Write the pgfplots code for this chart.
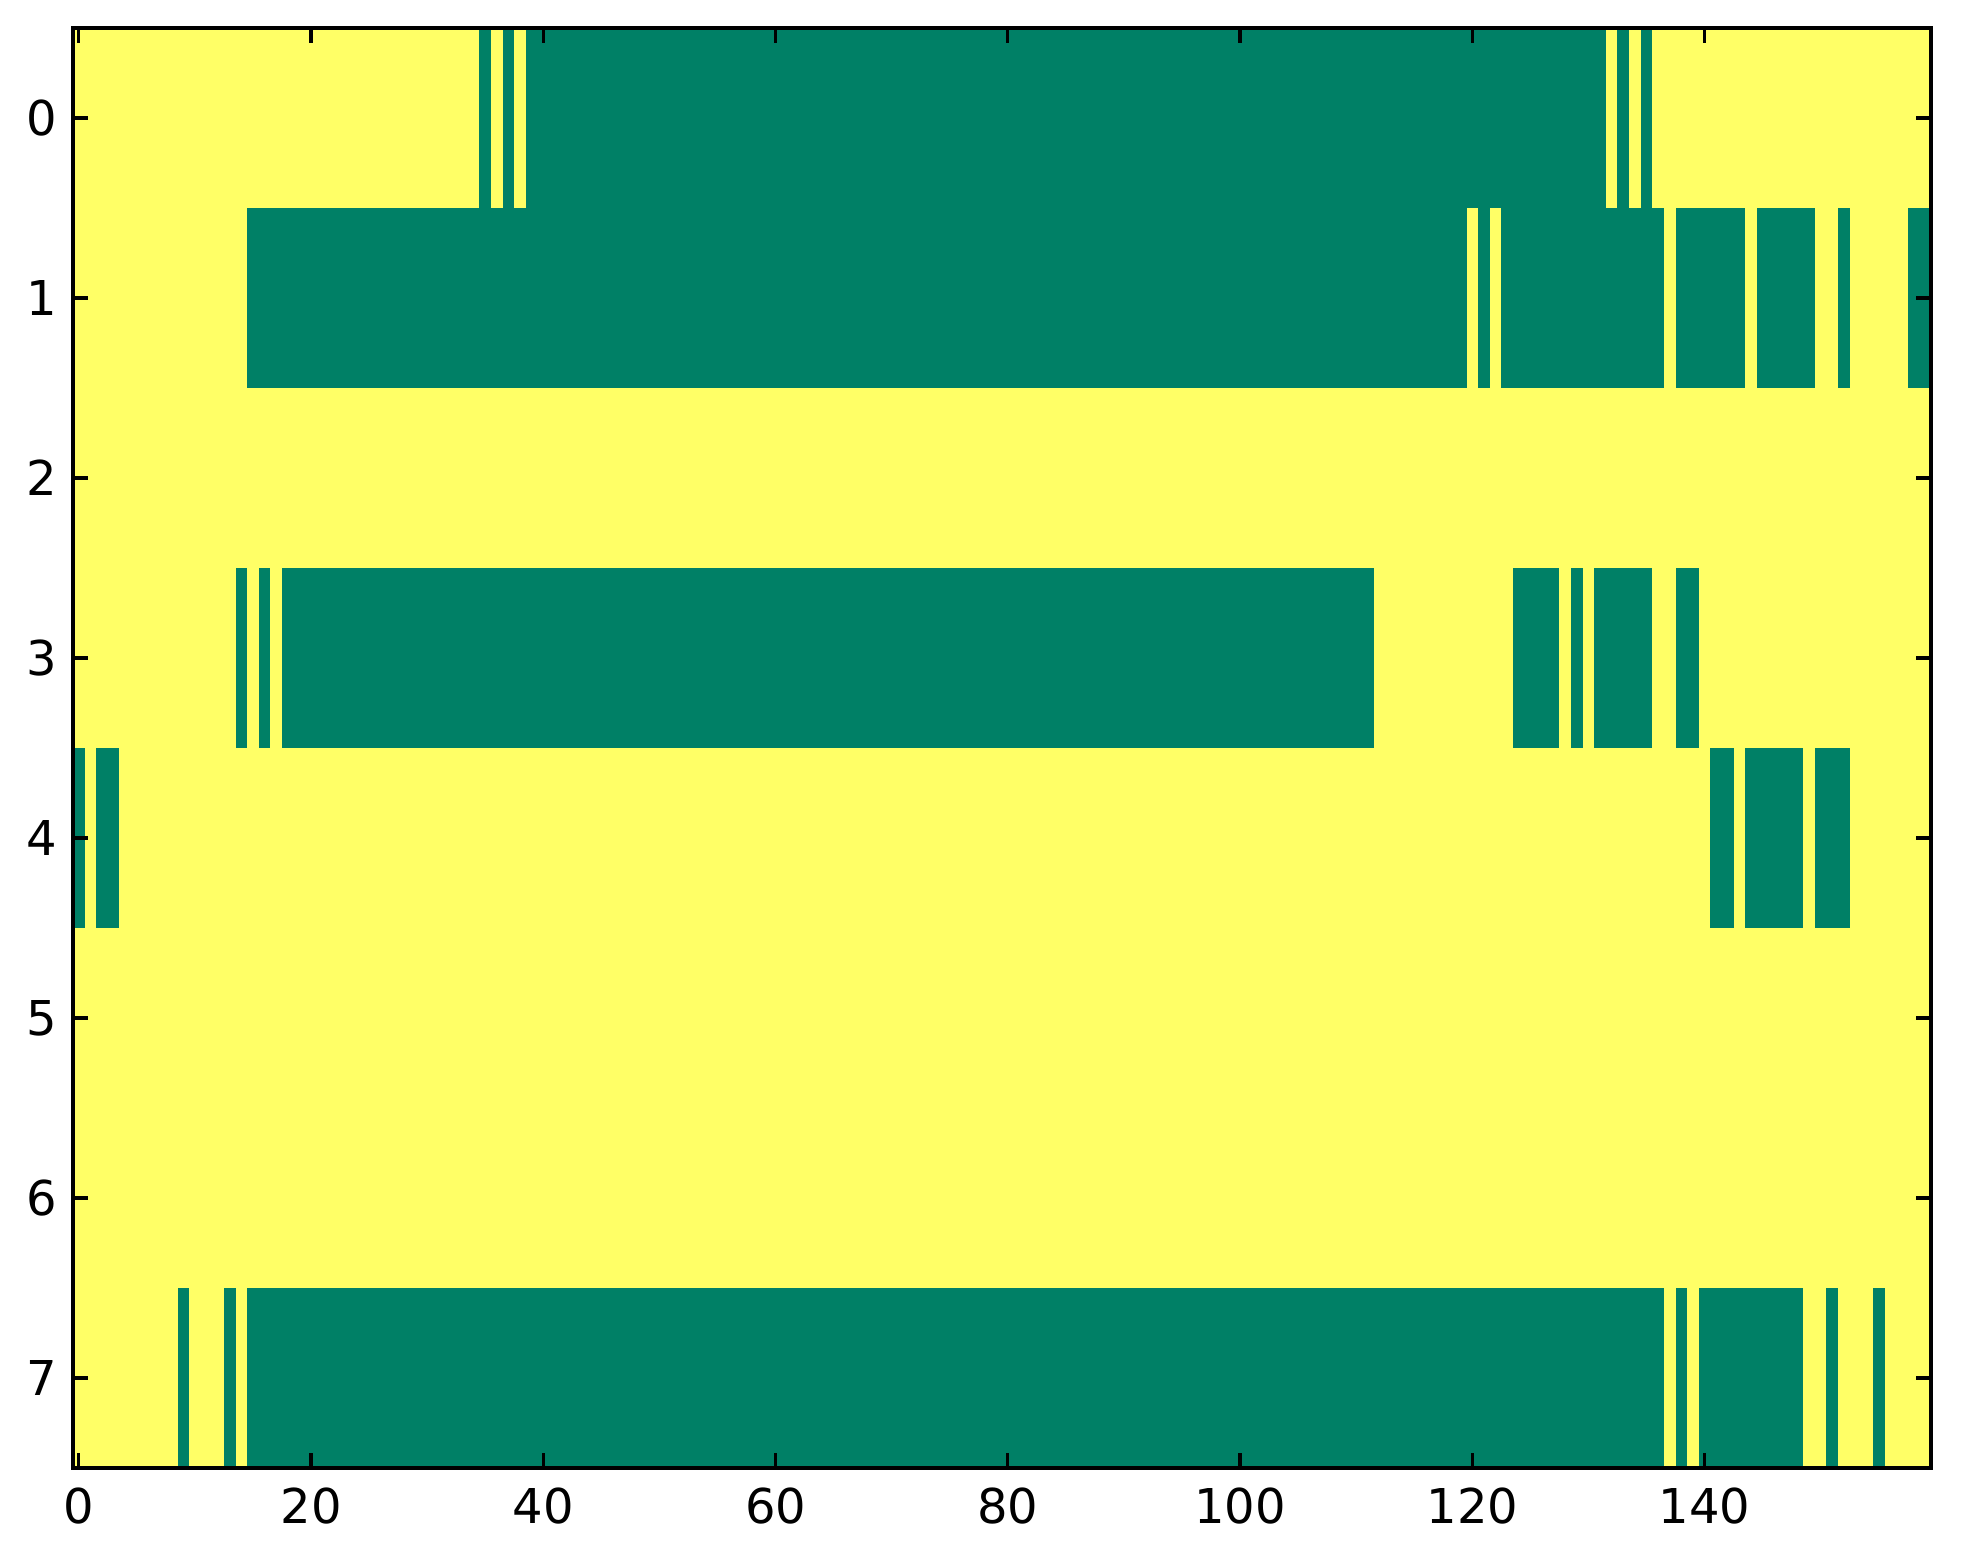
\documentclass[border=0pt]{standalone}
\usepackage{fontspec}
\setmainfont{DejaVu Sans}
\usepackage{pgfplots}
\pgfplotsset{compat=1.18}
\definecolor{mgreen}{RGB}{0,128,102}
\definecolor{myellow}{RGB}{255,255,102}
\newcommand{\seg}[4]{\addplot[fill=mgreen, draw=none, forget plot] coordinates {(#1,#3) (#2,#3) (#2,#4) (#1,#4)} -- cycle;}
\begin{document}
\begin{tikzpicture}
\begin{axis}[
  scale only axis,
  width=464.5pt, height=360pt,
  xmin=-0.5, xmax=159.5, ymin=-0.5, ymax=7.5,
  y dir=reverse,
  axis background/.style={fill=myellow},
  axis on top,
  axis line style={line width=1pt},
  xtick={0,20,40,60,80,100,120,140},
  ytick={0,1,2,3,4,5,6,7},
  tick align=inside,
  major tick length=3.7pt,
  tick style={line width=0.8pt, black},
  xticklabel style={yshift=-1.5pt},
  yticklabel style={xshift=-0.5pt},
  ticklabel style={font=\fontsize{12}{14}\selectfont},
  /pgf/number format/assume math mode=true,
]
% row 0
\seg{34.5}{35.5}{-0.5}{0.5}
\seg{36.5}{37.5}{-0.5}{0.5}
\seg{38.5}{131.5}{-0.5}{0.5}
\seg{132.5}{133.5}{-0.5}{0.5}
\seg{134.5}{135.5}{-0.5}{0.5}
% row 1
\seg{14.5}{119.5}{0.5}{1.5}
\seg{120.5}{121.5}{0.5}{1.5}
\seg{122.5}{136.5}{0.5}{1.5}
\seg{137.5}{143.5}{0.5}{1.5}
\seg{144.5}{149.5}{0.5}{1.5}
\seg{151.5}{152.5}{0.5}{1.5}
\seg{157.5}{159.5}{0.5}{1.5}
% row 3
\seg{13.5}{14.5}{2.5}{3.5}
\seg{15.5}{16.5}{2.5}{3.5}
\seg{17.5}{111.5}{2.5}{3.5}
\seg{123.5}{127.5}{2.5}{3.5}
\seg{128.5}{129.5}{2.5}{3.5}
\seg{130.5}{135.5}{2.5}{3.5}
\seg{137.5}{139.5}{2.5}{3.5}
% row 4
\seg{-0.5}{0.5}{3.5}{4.5}
\seg{1.5}{3.5}{3.5}{4.5}
\seg{140.5}{142.5}{3.5}{4.5}
\seg{143.5}{148.5}{3.5}{4.5}
\seg{149.5}{152.5}{3.5}{4.5}
% row 7
\seg{8.5}{9.5}{6.5}{7.5}
\seg{12.5}{13.5}{6.5}{7.5}
\seg{14.5}{136.5}{6.5}{7.5}
\seg{137.5}{138.5}{6.5}{7.5}
\seg{139.5}{148.5}{6.5}{7.5}
\seg{150.5}{151.5}{6.5}{7.5}
\seg{154.5}{155.5}{6.5}{7.5}
\end{axis}
\path (current axis.south west) ++(-18.25pt,-24pt) coordinate (bl);
\path (current axis.north east) ++(8pt,7pt) coordinate (tr);
\path[use as bounding box] (bl) rectangle (tr);
\end{tikzpicture}
\end{document}
